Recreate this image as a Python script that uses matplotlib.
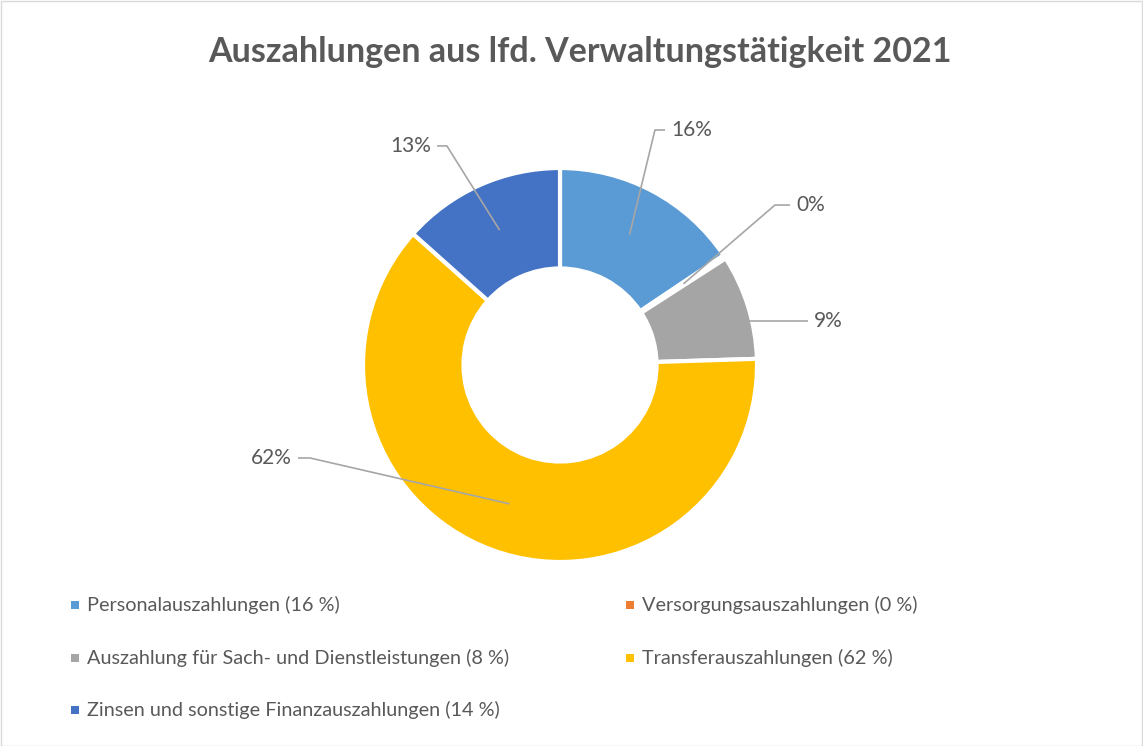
import numpy as np
import matplotlib.pyplot as plt
from matplotlib.patches import Rectangle

# Daten
categories = [
    "Personalauszahlungen",
    "Versorgungsauszahlungen",
    "Auszahlung für Sach- und Dienstleistungen",
    "Transferauszahlungen",
    "Zinsen und sonstige Finanzauszahlungen",
]
values = [15.6, 0.3, 8.6, 62.1, 13.4]
slice_labels = ["16%", "0%", "9%", "62%", "13%"]
legend_labels = [
    "Personalauszahlungen (16 %)",
    "Versorgungsauszahlungen (0 %)",
    "Auszahlung für Sach- und Dienstleistungen (8 %)",
    "Transferauszahlungen (62 %)",
    "Zinsen und sonstige Finanzauszahlungen (14 %)",
]
colors = ["#5B9BD5", "#ED7D31", "#A5A5A5", "#FFC000", "#4472C4"]

TEXT_COLOR = "#595959"
LINE_COLOR = "#A6A6A6"

plt.rcParams["font.family"] = ["Lato", "DejaVu Sans"]

W, H = 1143, 746
fig = plt.figure(figsize=(W / 100, H / 100), dpi=100)

# Donut-Achse (Mittelpunkt ca. 560/365 px, Radius ca. 197 px)
cx, cy, half = 560, 365, 200
ax = fig.add_axes([(cx - half) / W, (H - cy - half) / H, 2 * half / W, 2 * half / H])

wedges, _ = ax.pie(
    values,
    colors=colors,
    startangle=90,
    counterclock=False,
    radius=1.0,
    wedgeprops=dict(width=0.51, edgecolor="white", linewidth=3),
)
lim = half / 197
ax.set_xlim(-lim, lim)
ax.set_ylim(-lim, lim)
ax.set_aspect("equal")
ax.axis("off")

# Datenbeschriftungen mit Führungslinien (Layout: Knickpunkt, Linienende, Ankerradius)
label_layout = [
    ((0.482, 1.193), 0.533, 0.75),
    ((1.091, 0.812), 1.168, 0.75),
    ((0.990, 0.223), 1.260, 0.99),
    ((-1.269, -0.472), -1.330, 0.75),
    ((-0.574, 1.112), -0.624, 0.75),
]
total = sum(values)
cum = np.cumsum([0] + values)
for i, lab in enumerate(slice_labels):
    mid = (cum[i] + cum[i + 1]) / 2 / total * 2 * np.pi
    (ex, ey), end_x, r = label_layout[i]
    ax_ = r * np.sin(mid)
    ay_ = r * np.cos(mid)
    if i == 2:
        ay_ = ey
        ex = ax_
    ax.plot([ax_, ex, end_x], [ay_, ey, ey], color=LINE_COLOR, lw=1.2,
            solid_capstyle="butt", clip_on=False)
    if end_x > 0:
        ax.text(end_x + 0.03, ey, lab, ha="left", va="center", fontsize=15,
                color=TEXT_COLOR)
    else:
        ax.text(end_x - 0.03, ey, lab, ha="right", va="center", fontsize=15,
                color=TEXT_COLOR)

# Titel
fig.text(580 / W, 1 - 52 / H, "Auszahlungen aus lfd. Verwaltungstätigkeit 2021",
         ha="center", va="center", fontsize=24.5, fontweight="bold", color=TEXT_COLOR)

# Legende (zwei Spalten)
legend_pos = [(75, 605), (630, 605), (75, 658), (630, 658), (75, 710)]
for (lx, ly), lab, col in zip(legend_pos, legend_labels, colors):
    fig.patches.append(Rectangle(((lx - 4) / W, 1 - (ly + 4) / H), 8 / W, 8 / H,
                                 transform=fig.transFigure, facecolor=col,
                                 edgecolor="none"))
    fig.text((lx + 12) / W, 1 - ly / H, lab, ha="left", va="center",
             fontsize=14.3, color=TEXT_COLOR)

# Rahmen
fig.patches.append(Rectangle((0.5 / W, 0.5 / H), 1 - 1.5 / W, 1 - 1.5 / H,
                             transform=fig.transFigure, facecolor="none",
                             edgecolor="#D9D9D9", linewidth=1))

fig.savefig("out.png", dpi=100)
